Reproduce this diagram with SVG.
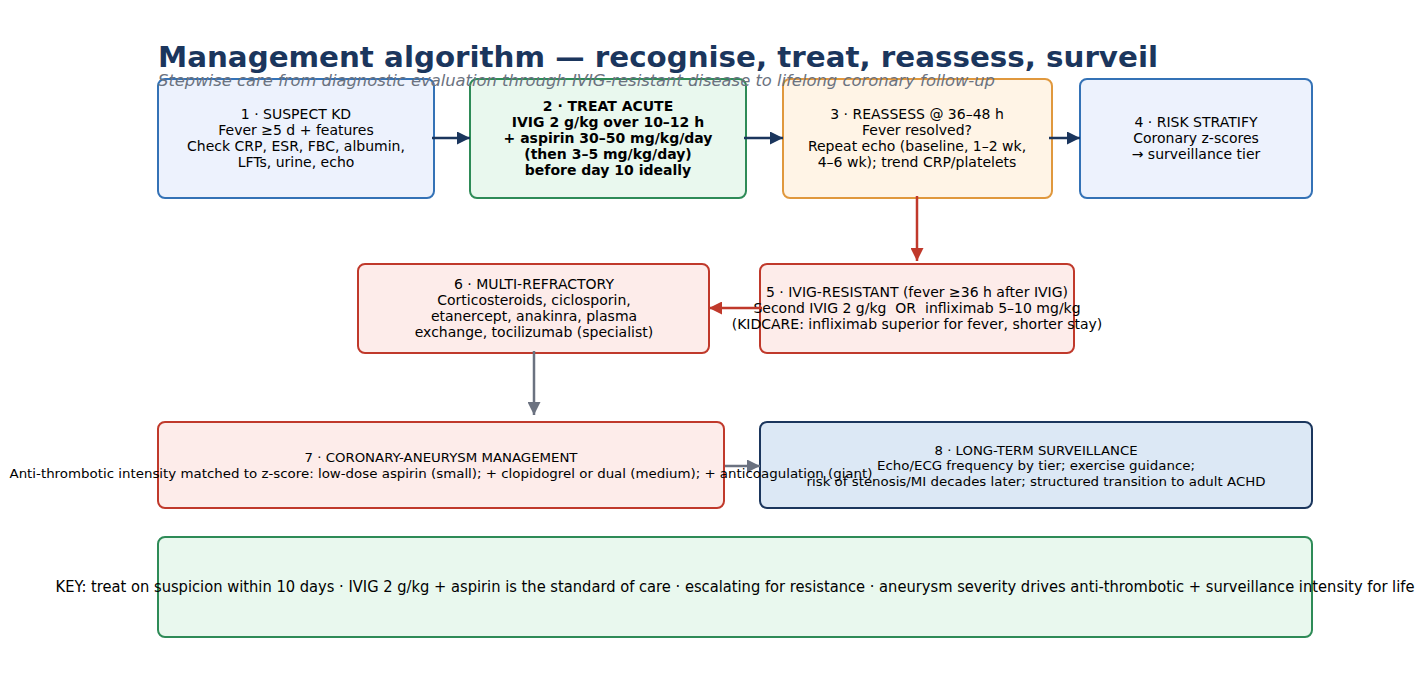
<svg xmlns="http://www.w3.org/2000/svg" width="1424" height="684" viewBox="0 0 1424 684">
<style>
text{font-family:"DejaVu Sans","Liberation Sans",sans-serif;fill:#000}
.t{font-size:14px;text-anchor:middle}
.b{font-weight:bold}
.s{font-size:13px;text-anchor:middle}
.blue{fill:#edf2fd;stroke:#3472b6;stroke-width:2}
.green{fill:#e9f8ee;stroke:#2e8b57;stroke-width:2}
.orange{fill:#fff4e6;stroke:#e0983d;stroke-width:2}
.red{fill:#fdecea;stroke:#c0392b;stroke-width:2}
.navy{fill:#dce8f5;stroke:#1b365d;stroke-width:2}
.cn{stroke:#1b365d;stroke-width:2.5;fill:none}
.cr{stroke:#c0392b;stroke-width:2.5;fill:none}
.cg{stroke:#6b7280;stroke-width:2.5;fill:none}
</style>
<defs>
<marker id="ar" viewBox="0 0 10 10" refX="10" refY="5" markerWidth="13" markerHeight="13" orient="auto" markerUnits="userSpaceOnUse"><path d="M0,0 L10,5 L0,10 z" fill="#c0392b"/></marker>
<marker id="ag" viewBox="0 0 10 10" refX="10" refY="5" markerWidth="13" markerHeight="13" orient="auto" markerUnits="userSpaceOnUse"><path d="M0,0 L10,5 L0,10 z" fill="#6b7280"/></marker>
<marker id="an2" viewBox="0 0 10 10" refX="10" refY="5" markerWidth="13" markerHeight="13" orient="auto" markerUnits="userSpaceOnUse"><path d="M0,0 L10,5 L0,10 z" fill="#1b365d"/></marker>
</defs>
<rect width="1424" height="684" fill="#ffffff"/>
<text x="158" y="67" font-size="28" font-weight="bold" style="fill:#1b365d" textLength="1000" lengthAdjust="spacingAndGlyphs">Management algorithm — recognise, treat, reassess, surveil</text>

<g id="n1"><rect class="blue" x="158" y="79" width="276" height="119" rx="7"/>
<text class="t" x="296" y="119">1 · SUSPECT KD</text>
<text class="t" x="296" y="135">Fever ≥5 d + features</text>
<text class="t" x="296" y="151">Check CRP, ESR, FBC, albumin,</text>
<text class="t" x="296" y="167">LFTs, urine, echo</text></g>

<g id="n2"><rect class="green" x="470" y="79" width="276" height="119" rx="7"/>
<text class="t b" x="608" y="111">2 · TREAT ACUTE</text>
<text class="t b" x="608" y="127">IVIG 2 g/kg over 10–12 h</text>
<text class="t b" x="608" y="143">+ aspirin 30–50 mg/kg/day</text>
<text class="t b" x="608" y="159">(then 3–5 mg/kg/day)</text>
<text class="t b" x="608" y="175">before day 10 ideally</text></g>

<g id="n3"><rect class="orange" x="783" y="79" width="269" height="119" rx="7"/>
<text class="t" x="917" y="119">3 · REASSESS @ 36–48 h</text>
<text class="t" x="917" y="135">Fever resolved?</text>
<text class="t" x="917" y="151">Repeat echo (baseline, 1–2 wk,</text>
<text class="t" x="917" y="167">4–6 wk); trend CRP/platelets</text></g>

<g id="n4"><rect class="blue" x="1080" y="79" width="232" height="119" rx="7"/>
<text class="t" x="1196" y="127">4 · RISK STRATIFY</text>
<text class="t" x="1196" y="143">Coronary z-scores</text>
<text class="t" x="1196" y="159">→ surveillance tier</text></g>

<g id="n5"><rect class="red" x="760" y="264" width="314" height="89" rx="7"/>
<text class="t" x="917" y="297">5 · IVIG-RESISTANT (fever ≥36 h after IVIG)</text>
<text class="t" x="917" y="313" xml:space="preserve">Second IVIG 2 g/kg  OR  infliximab 5–10 mg/kg</text>
<text class="t" x="917" y="329">(KIDCARE: infliximab superior for fever, shorter stay)</text></g>

<g id="n6"><rect class="red" x="358" y="264" width="351" height="89" rx="7"/>
<text class="t" x="534" y="289">6 · MULTI-REFRACTORY</text>
<text class="t" x="534" y="305">Corticosteroids, ciclosporin,</text>
<text class="t" x="534" y="321">etanercept, anakinra, plasma</text>
<text class="t" x="534" y="337">exchange, tocilizumab (specialist)</text></g>

<g id="n8"><rect class="navy" x="760" y="422" width="552" height="86" rx="7"/>
<text class="s" x="1036" y="455" textLength="203" lengthAdjust="spacingAndGlyphs">8 · LONG-TERM SURVEILLANCE</text>
<text class="s" x="1036" y="470" textLength="318" lengthAdjust="spacingAndGlyphs">Echo/ECG frequency by tier; exercise guidance;</text>
<text class="s" x="1036" y="486" textLength="459" lengthAdjust="spacingAndGlyphs">risk of stenosis/MI decades later; structured transition to adult ACHD</text></g>

<g id="connectors">
<line class="cn" x1="432" y1="138" x2="470" y2="138" marker-end="url(#an2)"/>
<line class="cn" x1="744" y1="138" x2="783" y2="138" marker-end="url(#an2)"/>
<line class="cn" x1="1049" y1="138" x2="1080" y2="138" marker-end="url(#an2)"/>
<line class="cr" x1="917" y1="196" x2="917" y2="261" marker-end="url(#ar)"/>
<line class="cr" x1="762" y1="308" x2="709" y2="308" marker-end="url(#ar)"/>
<line class="cg" x1="534" y1="351" x2="534" y2="415" marker-end="url(#ag)"/>
<line class="cg" x1="722" y1="466" x2="760" y2="466" marker-end="url(#ag)"/>
</g>

<g id="n7"><rect class="red" x="158" y="422" width="566" height="86" rx="7"/>
<text class="s" x="441" y="462" textLength="273" lengthAdjust="spacingAndGlyphs">7 · CORONARY-ANEURYSM MANAGEMENT</text>
<text class="s" x="441" y="478" textLength="863" lengthAdjust="spacingAndGlyphs">Anti-thrombotic intensity matched to z-score: low-dose aspirin (small); + clopidogrel or dual (medium); + anticoagulation (giant)</text></g>

<g id="key"><rect class="green" x="158" y="537" width="1154" height="100" rx="7"/>
<text x="735" y="592" font-size="15" text-anchor="middle" textLength="1359" lengthAdjust="spacingAndGlyphs">KEY: treat on suspicion within 10 days · IVIG 2 g/kg + aspirin is the standard of care · escalating for resistance · aneurysm severity drives anti-thrombotic + surveillance intensity for life</text></g>

<text x="158" y="86" font-size="15" font-style="italic" style="fill:#6b7280" textLength="837" lengthAdjust="spacingAndGlyphs">Stepwise care from diagnostic evaluation through IVIG-resistant disease to lifelong coronary follow-up</text>
</svg>
